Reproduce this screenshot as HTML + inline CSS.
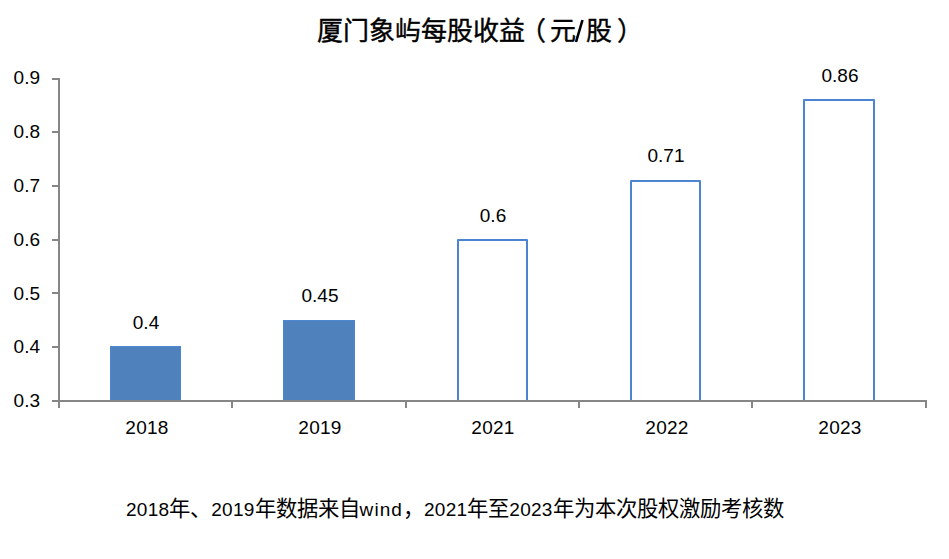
<!DOCTYPE html>
<html lang="zh-CN"><head><meta charset="utf-8">
<style>
html,body{margin:0;padding:0;background:#fff;}
body{width:949px;height:559px;position:relative;overflow:hidden;font-family:"Liberation Sans",sans-serif;color:#000;}
.t{position:absolute;white-space:nowrap;line-height:1;}
.title{font-family:"Liberation Serif",serif;font-weight:400;-webkit-text-stroke:0.4px #000;font-size:26px;top:18.5px;}
.yl{font-size:19px;right:909px;text-align:right;}
.cl{font-size:19px;letter-spacing:0.25px;width:100px;text-align:center;}
.dl{font-size:19px;width:100px;text-align:center;}
.note{font-size:19px;left:126px;top:499px;}
.note .c{font-size:21.33px;font-weight:300;}
.note .d{letter-spacing:0.25px;}
.note .w{letter-spacing:1.1px;}
svg{position:absolute;left:0;top:0;}
</style></head>
<body>
<svg width="949" height="559" viewBox="0 0 949 559">
  <rect x="110.5" y="346.5" width="70" height="54.5" fill="#4F81BD" stroke="#4A86D2" stroke-width="1"/>
  <rect x="283.5" y="320.5" width="71" height="80.5" fill="#4F81BD" stroke="#4A86D2" stroke-width="1"/>
  <g fill="#fff" stroke="#4B85D2" stroke-width="2" stroke-linejoin="round">
    <rect x="458" y="240" width="69" height="161"/>
    <rect x="631" y="181" width="69" height="220"/>
    <rect x="804" y="100" width="70" height="301"/>
  </g>
  <g fill="#868686">
    <rect x="58" y="78" width="2" height="324"/>
    <rect x="52" y="78" width="8" height="2"/>
    <rect x="52" y="131" width="8" height="2"/>
    <rect x="52" y="185" width="8" height="2"/>
    <rect x="52" y="239" width="8" height="2"/>
    <rect x="52" y="292" width="8" height="2"/>
    <rect x="52" y="346" width="8" height="2"/>
    <rect x="52" y="400" width="8" height="2"/>
    <rect x="58" y="400" width="869" height="2"/>
    <rect x="58" y="400" width="2" height="8"/>
    <rect x="231" y="400" width="2" height="8"/>
    <rect x="405" y="400" width="2" height="8"/>
    <rect x="578" y="400" width="2" height="8"/>
    <rect x="751" y="400" width="2" height="8"/>
    <rect x="925" y="400" width="2" height="8"/>
  </g>
  <line x1="576" y1="42" x2="582.5" y2="20" stroke="#000" stroke-width="2.6"/>
</svg>
<div class="t title" style="left:316.5px">厦门象屿每股收益</div>
<div class="t title" style="left:519.5px">（</div>
<div class="t title" style="left:550px">元</div>
<div class="t title" style="left:586px">股</div>
<div class="t title" style="left:617px">）</div>
<div class="t yl" style="top:68px">0.9</div>
<div class="t yl" style="top:122px">0.8</div>
<div class="t yl" style="top:176px">0.7</div>
<div class="t yl" style="top:230px">0.6</div>
<div class="t yl" style="top:284px">0.5</div>
<div class="t yl" style="top:337px">0.4</div>
<div class="t yl" style="top:391px">0.3</div>

<div class="t dl" style="left:96px;top:313px">0.4</div>
<div class="t dl" style="left:270px;top:286px">0.45</div>
<div class="t dl" style="left:443px;top:206px">0.6</div>
<div class="t dl" style="left:616px;top:146px">0.71</div>
<div class="t dl" style="left:790px;top:66px">0.86</div>

<div class="t cl" style="left:97px;top:418px">2018</div>
<div class="t cl" style="left:270px;top:418px">2019</div>
<div class="t cl" style="left:443px;top:418px">2021</div>
<div class="t cl" style="left:617px;top:418px">2022</div>
<div class="t cl" style="left:790px;top:418px">2023</div>

<div class="t note"><span class="d">2018</span><span class="c">年、</span><span class="d">2019</span><span class="c">年数据来自</span><span class="w">wind</span><span class="c">，</span><span class="d">2021</span><span class="c">年至</span><span class="d">2023</span><span class="c">年为本次股权激励考核数</span></div>
</body></html>
